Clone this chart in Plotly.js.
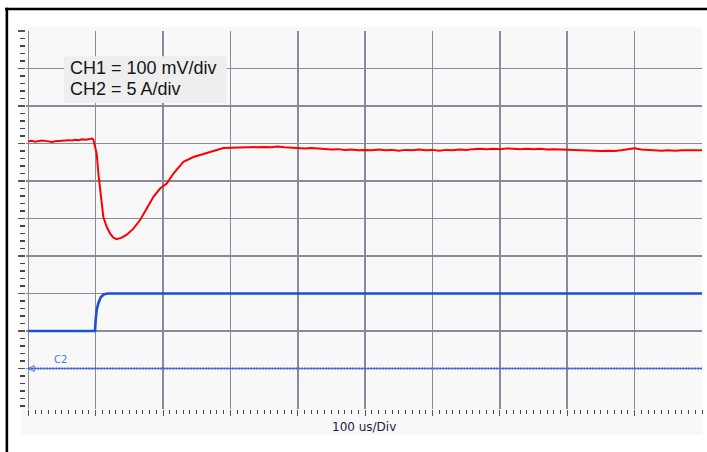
<!DOCTYPE html>
<html>
<head>
<meta charset="utf-8">
<script src="https://cdn.plot.ly/plotly-3.0.1.min.js"></script>
<style>html,body{margin:0;padding:0;background:#fff;}#chart{width:707px;height:452px;}</style>
</head>
<body>
<div id="chart"></div>
<script>
// ---- Data (time in microseconds, amplitude in screen divisions) ----
// CH1 (100 mV/div) output voltage
var ch1Time = [0,5,10,15,20,25,30,35,40,45,50,55,60,65,70,75,80,85,90,95,96.6,
  101.5,104,106.5,109,111.4,116.4,121.3,126.3,131.2,138.7,146.1,156,165.9,175.8,185.7,195.6,205.5,215.4,230.2,245.1,259.9,274.8,289.6,304.5,
  320,330,340,350,360,370,380,390,400,410,420,430,440,450,460,470,480,490,500,510,520,530,540,550,560,570,580,590,600,
  610,620,630,640,650,660,670,680,690,700,710,720,730,740,750,760,770,780,790,800,810,820,830,840,850,860,870,880,890,900,
  910,920,930,940,950,960,970,980,990,1000];
var ch1Div = [7.06,7.07,7.05,7.06,7.08,7.07,7.05,7.04,7.06,7.07,7.08,7.07,7.09,7.08,7.10,7.09,7.11,7.10,7.12,7.13,7.10,
  6.73,6.20,5.84,5.40,5.04,4.78,4.60,4.49,4.45,4.49,4.57,4.73,4.96,5.27,5.58,5.80,5.93,6.20,6.51,6.64,6.73,6.80,6.88,6.89,
  6.91,6.90,6.92,6.91,6.90,6.92,6.90,6.89,6.88,6.87,6.88,6.86,6.85,6.84,6.85,6.83,6.84,6.82,6.83,6.82,6.84,6.82,6.83,6.81,6.83,6.82,6.84,6.82,6.83,
  6.81,6.83,6.82,6.84,6.83,6.85,6.86,6.85,6.86,6.85,6.87,6.86,6.85,6.86,6.85,6.86,6.84,6.85,6.84,6.83,6.82,6.81,6.80,6.81,6.80,6.81,6.80,6.82,6.85,6.87,
  6.84,6.83,6.82,6.81,6.82,6.81,6.82,6.83,6.82,6.82];
// CH2 (5 A/div) load current
var ch2Time = [0, 99, 100, 101.5, 104, 107.5, 112.4, 118.8, 1000];
var ch2Div  = [2.0, 2.0, 2.3, 2.56, 2.74, 2.90, 2.98, 3.0, 3.0];
// CH2 ground reference marker
var c2GroundTime = [0, 1000];
var c2GroundDiv  = [1, 1];
// Axis ticks
var xGridVals = [0,100,200,300,400,500,600,700,800,900];
var yGridVals = [1,2,3,4,5,6,7,8,9,10];
var labelLines = ["CH1 = 100 mV/div", "CH2 = 5 A/div"];
var xLabel = "100 us/Div";
var groundLabel = "C2";

var traces = [
  {x: ch1Time, y: ch1Div, type: 'scatter', mode: 'lines', line: {color: '#ff0000', width: 2}, hoverinfo: 'skip'},
  {x: ch2Time, y: ch2Div, type: 'scatter', mode: 'lines', line: {color: '#1a4fd6', width: 2.6}, hoverinfo: 'skip'},
  {x: c2GroundTime, y: c2GroundDiv, type: 'scatter', mode: 'lines', line: {color: '#2a5fe0', width: 2, dash: '2px,1px'}, hoverinfo: 'skip'},
  {x: [c2GroundTime[0]], y: [c2GroundDiv[0]], type: 'scatter', mode: 'markers', marker: {symbol: 'arrow-left-open', size: 6, color: '#4a7ae0', line: {width: 1, color: '#4a7ae0'}}, hoverinfo: 'skip'}
];

var gridColor = '#8a8a9c';
var layout = {
  width: 707, height: 452, autosize: false,
  margin: {l: 26, r: 5.3, t: 30.7, b: 43, pad: 0},
  paper_bgcolor: '#ffffff', plot_bgcolor: '#f8f8f8',
  showlegend: false,
  xaxis: {
    range: [-3.42, 1000], tickmode: 'array', tickvals: xGridVals, showticklabels: false,
    showgrid: true, gridcolor: gridColor, gridwidth: 1.6, zeroline: false, showline: false,
    ticks: 'outside', ticklen: 6, tickwidth: 1, tickcolor: '#555',
    minor: {dtick: 10, tick0: 0, ticks: 'outside', ticklen: 4, tickwidth: 1, tickcolor: '#444', showgrid: false},
    fixedrange: true
  },
  yaxis: {
    range: [-0.08, 10], tickmode: 'array', tickvals: yGridVals, showticklabels: false,
    showgrid: true, gridcolor: gridColor, gridwidth: 1.6, zeroline: false, showline: false,
    ticks: 'outside', ticklen: 7, tickwidth: 1.3, tickcolor: '#555',
    minor: {dtick: 0.2, tick0: 0, ticks: 'outside', ticklen: 5, tickwidth: 1.3, tickcolor: '#444', showgrid: false},
    fixedrange: true
  },
  shapes: [
    {type: 'rect', xref: 'paper', yref: 'paper', x0: -0.0074, x1: 1.0005, y0: -0.0687, y1: 1.0098, fillcolor: '#f8f8f8', line: {width: 0}, layer: 'below'},
    {type: 'rect', xref: 'paper', yref: 'paper', x0: 0.0562, x1: 0.2970, y0: 0.8097, y1: 0.9331, fillcolor: '#eeeeee', line: {width: 0}, layer: 'above'},
    {type: 'line', xref: 'paper', yref: 'paper', x0: -0.031, x1: 1.02, y0: 1.0582, y1: 1.0582, line: {color: '#000', width: 2.6}},
    {type: 'line', xref: 'paper', yref: 'paper', x0: -0.0283, x1: -0.0283, y0: 1.0615, y1: -0.13, line: {color: '#000', width: 2.6}}
  ],
  annotations: [
    {xref: 'paper', yref: 'paper', x: 0.0626, y: 0.9027, xanchor: 'left', yanchor: 'middle', text: labelLines[0], showarrow: false,
     font: {family: 'Liberation Sans, Arial, sans-serif', size: 18, color: '#151515'}},
    {xref: 'paper', yref: 'paper', x: 0.0626, y: 0.8454, xanchor: 'left', yanchor: 'middle', text: labelLines[1], showarrow: false,
     font: {family: 'Liberation Sans, Arial, sans-serif', size: 18, color: '#151515'}},
    {xref: 'paper', yref: 'paper', x: 0.5001, y: -0.0478, xanchor: 'center', yanchor: 'middle', text: xLabel, showarrow: false,
     font: {family: 'DejaVu Sans, sans-serif', size: 12, color: '#1c1c3c'}},
    {xref: 'paper', yref: 'paper', x: 0.0389, y: 0.1314, xanchor: 'left', yanchor: 'middle', text: groundLabel, showarrow: false,
     font: {family: 'DejaVu Sans, sans-serif', size: 10, color: '#4a7ae0'}}
  ]
};

Plotly.newPlot('chart', traces, layout, {displayModeBar: false, staticPlot: true});
</script>
</body>
</html>
